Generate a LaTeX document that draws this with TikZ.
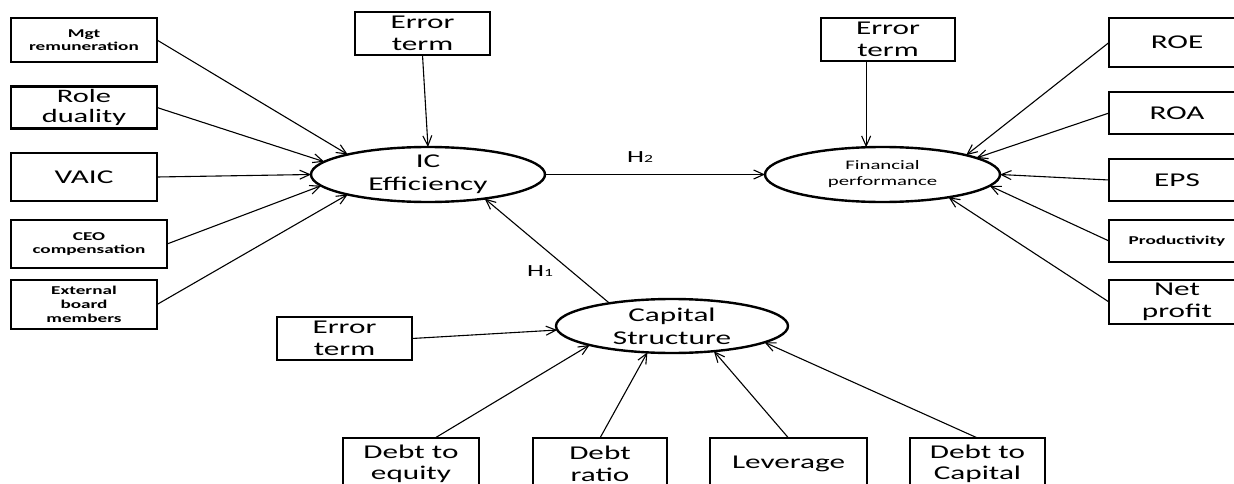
\documentclass[tikz,border=0pt]{standalone}
\usepackage{fontspec}
\setmainfont{Carlito}[FakeStretch=1.6]
\usetikzlibrary{shapes.geometric,arrows.meta,calc}
\begin{document}
\begin{tikzpicture}[x=1pt,y=-1pt,
 box/.style={draw,line width=2.4pt,rectangle,inner sep=0pt,outer sep=0pt,align=center,font=\fontsize{19.5}{21.5}\selectfont},
 smallbox/.style={box,font=\bfseries\fontsize{12}{13.5}\selectfont},
 latent/.style={draw,line width=2.4pt,ellipse,inner sep=0pt,outer sep=0pt,minimum width=234pt,minimum height=55pt,align=center,font=\fontsize{19.5}{23}\selectfont},
 link/.style={line width=1.1pt,-{Straight Barb[length=10pt,width=9pt]}},
 lbl/.style={inner sep=0pt,font=\fontsize{17}{17}\selectfont}
]
\clip (0,0) rectangle (1234,484);
\fill[white] (0,0) rectangle (1234,484);
% left indicators
\node[smallbox,minimum width=146pt,minimum height=44pt] (mgt) at (84,40) {Mgt\\remuneration};
\node[box,minimum width=146pt,minimum height=42pt,font=\fontsize{19}{20.5}\selectfont] (role) at (84,107.5) {Role\\duality};
\node[box,minimum width=146pt,minimum height=48pt] (vaic) at (84,177) {VAIC};
\node[smallbox,minimum width=156pt,minimum height=48pt] (ceo) at (89,244) {CEO\\compensation};
\node[smallbox,minimum width=146pt,minimum height=49pt,font=\bfseries\fontsize{12}{14}\selectfont] (ext) at (84,304.5) {External\\board\\members};
% error terms
\node[box,minimum width=135pt,minimum height=43pt] (err1) at (422.5,33.5) {Error\\term};
\node[box,minimum width=134pt,minimum height=43pt] (err2) at (888,39.5) {Error\\term};
\node[box,minimum width=135pt,minimum height=43pt] (err3) at (344.5,338.5) {Error\\term};
% latent variables
\node[latent] (ic) at (428,174.5) {IC\\Efficiency};
\node[latent,minimum width=235pt,font=\fontsize{13}{16}\selectfont] (fp) at (882.5,174.5) {Financial\\performance};
\node[latent,minimum width=232pt,minimum height=54pt] (cs) at (672,326) {Capital\\Structure};
% right indicators
\node[box,minimum width=136pt,minimum height=49pt] (roe) at (1177,42.5) {ROE};
\node[box,minimum width=136pt,minimum height=42pt] (roa) at (1177,113) {ROA};
\node[box,minimum width=136pt,minimum height=42pt] (eps) at (1177,180) {EPS};
\node[smallbox,minimum width=136pt,minimum height=42pt] (prod) at (1177,241) {Productivity};
\node[box,minimum width=136pt,minimum height=44pt] (net) at (1177,302) {Net\\profit};
% bottom indicators
\node[box,minimum width=136pt,minimum height=52pt] (dte) at (411,464) {Debt to\\equity};
\node[box,minimum width=134pt,minimum height=52pt] (dr) at (600,464) {Debt\\ratio};
\node[box,minimum width=157pt,minimum height=52pt] (lev) at (788.5,464) {Leverage};
\node[box,minimum width=135pt,minimum height=52pt] (dtc) at (977.5,464) {Debt to\\Capital};
% connectors
\draw[link] (mgt.east) -- (ic.166.8);
\draw[link] (role.east) -- (ic.173.9);
\draw[link] (vaic.east) -- (ic.180);
\draw[link] (ceo.east) -- (ic.186.1);
\draw[link] (ext.east) -- (ic.194.2);
\draw[link] (err1.south) -- (ic.north);
\draw[link] (ic.east) -- (fp.west);
\draw[link] (err2.south -| fp.121) -- (fp.121);
\draw[link] (roe.west) -- (fp.13.8);
\draw[link] (roa.west) -- (fp.10.2);
\draw[link] (eps.west) -- (fp.east);
\draw[link] (prod.west) -- (fp.-6);
\draw[link] (net.west) -- (fp.-19);
\draw[link] (cs.160.5) -- (ic.337.6);
\draw[link] (err3.east) -- (cs.182);
\draw[link] ($(dte.north)+(24,0)$) -- (cs.193.9);
\draw[link] (dr.north) -- (cs.227);
\draw[link] (lev.north) -- (cs.329);
\draw[link] (dtc.north) -- (cs.350.5);
% labels
\node[lbl] (h2) at (640,157) {H{\fontsize{11}{11}\selectfont 2}};
\node[lbl] (h1) at (540,271) {H{\fontsize{11}{11}\selectfont 1}};
\end{tikzpicture}
\end{document}
